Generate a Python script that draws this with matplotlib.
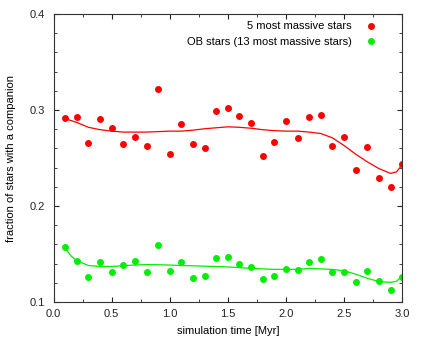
import numpy as np
import matplotlib.pyplot as plt
from matplotlib.ticker import MultipleLocator

plt.rcParams['font.family'] = ['Liberation Sans', 'DejaVu Sans']

# simulation time of the snapshots [Myr]
t = [0.1, 0.2, 0.3, 0.4, 0.5, 0.6, 0.7, 0.8, 0.9, 1.0,
     1.1, 1.2, 1.3, 1.4, 1.5, 1.6, 1.7, 1.8, 1.9, 2.0,
     2.1, 2.2, 2.3, 2.4, 2.5, 2.6, 2.7, 2.8, 2.9, 3.0]

# 5 most massive stars
frac_massive = [0.292, 0.293, 0.266, 0.291, 0.281, 0.265, 0.272, 0.263, 0.322, 0.254,
                0.285, 0.265, 0.260, 0.299, 0.302, 0.294, 0.286, 0.252, 0.267, 0.289,
                0.271, 0.293, 0.295, 0.262, 0.272, 0.238, 0.261, 0.229, 0.220, 0.244]

# OB stars (13 most massive)
frac_ob = [0.157, 0.143, 0.126, 0.142, 0.131, 0.139, 0.143, 0.131, 0.159, 0.132,
           0.142, 0.125, 0.127, 0.146, 0.147, 0.140, 0.136, 0.124, 0.127, 0.134,
           0.133, 0.142, 0.145, 0.131, 0.131, 0.121, 0.132, 0.122, 0.112, 0.126]

# smoothed curves
t_smooth = [0.1, 0.15, 0.2, 0.3, 0.4, 0.5, 0.6, 0.7, 0.8, 0.9, 1.0,
            1.1, 1.2, 1.3, 1.4, 1.5, 1.6, 1.7, 1.8, 1.9, 2.0,
            2.1, 2.2, 2.3, 2.4, 2.5, 2.6, 2.7, 2.8, 2.9, 2.95, 3.0]
smooth_massive = [0.291, 0.289, 0.287, 0.282, 0.2795, 0.278, 0.277, 0.277, 0.277, 0.2775, 0.278,
                  0.278, 0.279, 0.2805, 0.2815, 0.2825, 0.282, 0.281, 0.2795, 0.2785, 0.278,
                  0.278, 0.277, 0.2755, 0.271, 0.263, 0.254, 0.246, 0.239, 0.234, 0.2355, 0.243]
smooth_ob = [0.156, 0.148, 0.143, 0.138, 0.137, 0.137, 0.1378, 0.1385, 0.139, 0.1388, 0.1385,
             0.138, 0.1377, 0.1373, 0.137, 0.1365, 0.1358, 0.135, 0.1345, 0.134, 0.134,
             0.134, 0.135, 0.1345, 0.134, 0.1325, 0.129, 0.1247, 0.1213, 0.1205, 0.1215, 0.127]

red = '#ff0000'
green = '#00ee00'

fig = plt.figure(figsize=(4.22, 3.38), dpi=100)
ax = fig.add_axes([0.127, 0.1065, 0.826, 0.852])

ax.plot(t_smooth, smooth_massive, color=red, lw=0.9)
ax.plot(t_smooth, smooth_ob, color=green, lw=0.9)
ax.plot(t, frac_massive, 'o', color=red, ms=5, mec='none', label='5 most massive stars')
ax.plot(t, frac_ob, 'o', color=green, ms=5, mec='none', label='OB stars (13 most massive stars)')

ax.set_xlim(0, 3)
ax.set_ylim(0.1, 0.4)
ax.xaxis.set_major_locator(MultipleLocator(0.5))
ax.xaxis.set_minor_locator(MultipleLocator(0.25))
ax.yaxis.set_major_locator(MultipleLocator(0.1))
ax.yaxis.set_minor_locator(MultipleLocator(0.02))
ax.tick_params(which='both', direction='in', top=True, right=True, labelsize=8, colors='#222222')
ax.tick_params(which='major', length=3.5)
ax.tick_params(which='minor', length=2.5)
ax.tick_params(axis='y', which='major', pad=6)
ax.tick_params(axis='x', which='major', pad=5)
for s in ax.spines.values():
    s.set_color('#333333')

ax.set_xlabel('simulation time [Myr]', fontsize=8, labelpad=5)
ax.set_ylabel('fraction of stars with a companion', fontsize=8, labelpad=10)

ax.legend(loc='upper right', frameon=False, markerfirst=False, fontsize=8,
          handlelength=1.0, handletextpad=1.2, labelspacing=0.5,
          bbox_to_anchor=(0.955, 1.009))

plt.savefig('out.png', dpi=100)
